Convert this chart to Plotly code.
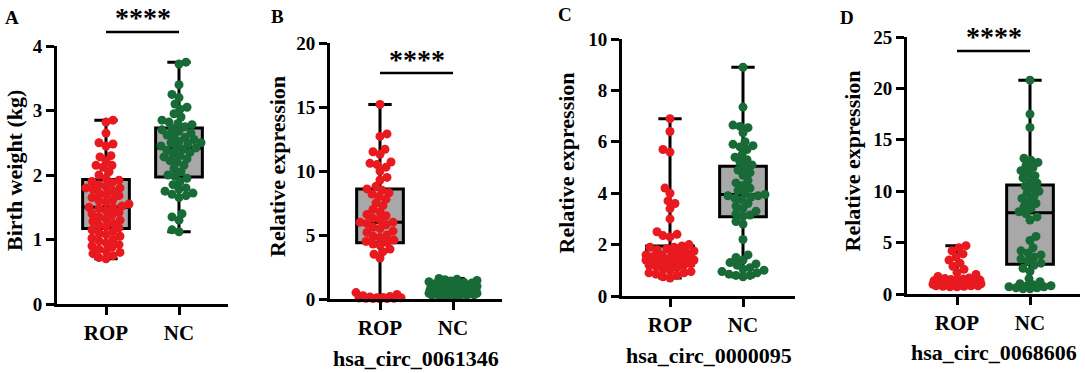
import numpy as np
import plotly.graph_objects as go

W, H = 1085, 373
FONT = "Liberation Serif, Times New Roman, Times, serif"
RED = "#E8191F"
GREEN = "#186A36"
BOXFILL = "#A8A8A8"

categories = ["ROP", "NC"]

# ---- Panel A: birth weight (kg) ----
rop_bw = [2.85, 2.82, 2.65, 2.50, 2.48, 2.45, 2.30, 2.28, 2.22, 2.15, 2.15, 2.12, 2.05, 2.00,
          1.95, 1.92, 1.90, 1.88, 1.85, 1.82, 1.80, 1.80, 1.78, 1.75, 1.72, 1.70, 1.68, 1.65,
          1.62, 1.60, 1.58, 1.55, 1.52, 1.50, 1.50, 1.48, 1.45, 1.42, 1.40, 1.38, 1.35, 1.32,
          1.30, 1.28, 1.25, 1.22, 1.20, 1.18, 1.15, 1.12, 1.10, 1.08, 1.05, 1.02, 1.00, 0.98,
          0.95, 0.92, 0.90, 0.88, 0.85, 0.82, 0.80, 0.78, 0.75, 0.72, 0.70]
nc_bw = [3.75, 3.72, 3.40, 3.25, 3.20, 3.10, 3.05, 3.02, 2.95, 2.90, 2.85, 2.82, 2.80, 2.78,
         2.75, 2.72, 2.70, 2.68, 2.65, 2.62, 2.60, 2.58, 2.55, 2.52, 2.50, 2.50, 2.48, 2.45,
         2.42, 2.42, 2.40, 2.38, 2.35, 2.32, 2.30, 2.28, 2.25, 2.22, 2.20, 2.15, 2.10, 2.05,
         2.00, 1.98, 1.95, 1.90, 1.85, 1.80, 1.78, 1.75, 1.72, 1.70, 1.68, 1.65, 1.40, 1.35,
         1.30, 1.15, 1.12]

# ---- Panel B: hsa_circ_0061346 ----
rop_b = [15.2, 12.9, 12.7, 11.7, 11.5, 11.3, 10.7, 10.6, 10.5, 10.3, 10.0, 9.5, 9.3, 8.8,
         8.6, 8.5, 8.3, 8.2, 8.0, 7.8, 7.5, 7.3, 7.0, 6.8, 6.6, 6.5, 6.3, 6.2, 6.0, 6.0, 5.9,
         5.8, 5.6, 5.5, 5.3, 5.2, 5.0, 4.9, 4.8, 4.6, 4.5, 4.4, 4.3, 4.2, 3.9, 3.7, 3.5, 3.2,
         0.5, 0.35, 0.25, 0.2, 0.15, 0.12, 0.1, 0.1, 0.08, 0.06, 0.05, 0.04, 0.03, 0.02]
nc_b = [1.6, 1.55, 1.5, 1.45, 1.4, 1.35, 1.3, 1.25, 1.2, 1.15, 1.1, 1.05, 1.0, 1.0, 0.95,
        0.95, 0.9, 0.9, 0.88, 0.85, 0.85, 0.82, 0.8, 0.8, 0.78, 0.75, 0.75, 0.72, 0.7, 0.7,
        0.68, 0.65, 0.65, 0.62, 0.6, 0.6, 0.58, 0.55, 0.55, 0.52, 0.5, 0.5, 0.48, 0.45, 0.45,
        0.42, 0.4, 0.4, 0.38, 0.35, 0.35, 0.32, 0.3, 0.3, 0.28, 0.25, 0.22, 0.2]

# ---- Panel C: hsa_circ_0000095 ----
rop_c = [6.9, 6.4, 5.7, 5.6, 4.2, 4.0, 3.7, 3.6, 3.4, 3.0, 2.5, 2.4, 2.35, 2.3, 2.0, 1.95,
         1.9, 1.9, 1.85, 1.8, 1.75, 1.7, 1.7, 1.65, 1.6, 1.6, 1.55, 1.55, 1.5, 1.5, 1.5, 1.45,
         1.45, 1.45, 1.4, 1.4, 1.4, 1.35, 1.35, 1.3, 1.3, 1.25, 1.25, 1.2, 1.2, 1.15, 1.1,
         1.05, 1.0, 0.95, 0.9, 0.9, 0.85, 0.8, 0.75, 0.7]
nc_c = [8.9, 7.35, 6.65, 6.6, 6.55, 6.35, 6.0, 5.9, 5.85, 5.8, 5.7, 5.5, 5.4, 5.3, 5.2,
        5.1, 5.0, 4.9, 4.8, 4.7, 4.5, 4.4, 4.3, 4.2, 4.1, 4.0, 3.95, 3.9, 3.9, 3.85, 3.8,
        3.75, 3.6, 3.5, 3.4, 3.3, 3.2, 3.15, 3.1, 2.9, 2.8, 2.2, 1.6, 1.5, 1.4, 1.3, 1.25,
        1.2, 1.1, 1.05, 1.0, 0.95, 0.9, 0.85, 0.8, 0.8, 0.75]

# ---- Panel D: hsa_circ_0068606 ----
rop_d = [4.7, 4.5, 4.2, 3.9, 3.6, 3.3, 3.0, 2.7, 2.4, 2.1, 1.9, 1.7, 1.55, 1.5, 1.45, 1.4,
         1.4, 1.35, 1.3, 1.3, 1.25, 1.2, 1.2, 1.15, 1.15, 1.1, 1.1, 1.1, 1.05, 1.05, 1.0,
         1.0, 1.0, 0.95, 0.95, 0.9, 0.9, 0.9, 0.85, 0.85, 0.8, 0.8, 0.8, 0.75, 0.75, 0.7, 0.7]
nc_d = [20.8, 17.5, 16.2, 13.2, 13.0, 12.8, 12.5, 12.3, 12.0, 11.8, 11.5, 11.3, 11.0, 10.8,
        10.5, 10.3, 10.0, 9.8, 9.5, 9.3, 9.0, 8.8, 8.5, 8.3, 8.0, 7.8, 7.5, 7.2, 5.6, 5.2,
        4.5, 4.2, 4.0, 3.8, 3.6, 3.4, 3.2, 3.0, 2.8, 2.5, 2.2, 1.5, 1.2, 1.0, 0.9, 0.8, 0.8,
        0.7, 0.7, 0.6, 0.6, 0.5, 0.5]

# Box statistics: [ROP, NC] per panel
box_min = [[0.70, 1.12], [0.0, 0.2], [0.70, 0.75], [0.70, 0.5]]
box_q1 = [[1.17, 1.97], [4.4, 0.3], [1.20, 3.08], [0.85, 2.9]]
box_med = [[1.50, 2.42], [6.0, 0.6], [1.45, 3.95], [1.10, 7.9]]
box_q3 = [[1.93, 2.73], [8.6, 0.95], [1.95, 5.05], [1.40, 10.6]]
box_max = [[2.85, 3.75], [15.2, 1.6], [6.90, 8.9], [4.70, 20.8]]

y_max = [4, 20, 10, 25]
y_dtick = [1, 5, 2, 5]
letters = ["A", "B", "C", "D"]
y_titles = ["Birth weight (kg)", "Relative expression", "Relative expression", "Relative expression"]
subtitles = ["", "hsa_circ_0061346", "hsa_circ_0000095", "hsa_circ_0068606"]
significance = ["****", "****", "", "****"]
values = [(rop_bw, nc_bw), (rop_b, nc_b), (rop_c, nc_c), (rop_d, nc_d)]

# ---- layout geometry (pixels) ----
axis_x = [57, 330, 622, 907]          # y-axis line position
rop_px = [106, 380, 670, 957]         # ROP category centre
axis_right = [228, 502, 795, 1080]    # end of x-axis line
y_top = [46, 43, 39, 37]              # pixel of y max
y_zero = [304, 299, 296, 294]         # pixel of y = 0
CAT_SP = 73.0                         # px between categories
letter_pos = [(12, 17), (277, 16), (565, 14), (847, 17)]
ytitle_x = [14, 277, 566, 852]
sig_y = [17, 59, 0, 37]
bracket_y = [32, 73, 0, 51]
subtitle_y = [0, 358, 355, 352]


def swarm(vals, ppu_y, ppu_x, sep=7.0, maxw=24):
    vals = np.asarray(vals, float)
    order = np.argsort(vals, kind="stable")
    placed = []
    off = np.zeros(len(vals))
    for k, i in enumerate(order):
        y = vals[i] * ppu_y
        sgn = 1 if k % 2 == 0 else -1
        cands = [0]
        for c in range(1, maxw + 1):
            cands += [sgn * c, -sgn * c]
        best, bestd = 0, -1.0
        for c in cands:
            if placed:
                md = min(np.hypot(c - px, y - py) for px, py in placed)
            else:
                md = 1e9
            if md >= sep:
                best = c
                break
            if md > bestd:
                bestd, best = md, c
        placed.append((best, y))
        off[i] = best / ppu_x
    return off


def px2x(x):
    return x / W


def px2y(y):
    return 1 - y / H


def bold(s):
    return f"<b>{s}</b>"


fig = go.Figure()
annotations = []
shapes = []
layout_axes = {}

for p in range(4):
    n = p + 1
    xa = "x" if n == 1 else f"x{n}"
    ya = "y" if n == 1 else f"y{n}"
    xr = [(axis_x[p] - rop_px[p]) / CAT_SP, (axis_right[p] - rop_px[p]) / CAT_SP]
    ppu_y = (y_zero[p] - y_top[p]) / y_max[p]

    for c in range(2):
        fig.add_trace(go.Box(
            x=[c], q1=[box_q1[p][c]], median=[box_med[p][c]], q3=[box_q3[p][c]],
            lowerfence=[box_min[p][c]], upperfence=[box_max[p][c]],
            width=0.64, whiskerwidth=0.5, fillcolor=BOXFILL,
            line=dict(color="black", width=3), boxpoints=False,
            orientation="v", showlegend=False, hoverinfo="skip",
            xaxis=xa, yaxis=ya))
    for c, (vals, col) in enumerate(zip(values[p], [RED, GREEN])):
        off = swarm(vals, ppu_y, CAT_SP)
        fig.add_trace(go.Scatter(
            x=c + off, y=vals, mode="markers",
            marker=dict(color=col, size=9, line=dict(width=0)),
            cliponaxis=False, showlegend=False, hoverinfo="skip",
            xaxis=xa, yaxis=ya))

    common = dict(showline=True, linewidth=3, linecolor="black", ticks="outside",
                  ticklen=8, tickwidth=3, tickcolor="black", showgrid=False,
                  zeroline=False, fixedrange=True, automargin=False)
    yt = list(range(0, y_max[p] + 1, y_dtick[p]))
    layout_axes["xaxis" if n == 1 else f"xaxis{n}"] = dict(
        domain=[px2x(axis_x[p]), px2x(axis_right[p])], range=xr,
        tickvals=[0, 1], ticktext=[bold(t) for t in categories], anchor=ya,
        tickfont=dict(family=FONT, size=21, color="black"), **common)
    layout_axes["yaxis" if n == 1 else f"yaxis{n}"] = dict(
        domain=[px2y(y_zero[p]), px2y(y_top[p])], range=[0, y_max[p]],
        tickvals=yt, ticktext=[bold(t) for t in yt], anchor=xa,
        tickfont=dict(family=FONT, size=19, color="black"), **common)

    annotations.append(dict(text=bold(letters[p]), x=px2x(letter_pos[p][0]), y=px2y(letter_pos[p][1]),
                            xref="paper", yref="paper", showarrow=False,
                            xanchor="center", yanchor="middle",
                            font=dict(family=FONT, size=19, color="black")))
    annotations.append(dict(text=bold(y_titles[p]), x=px2x(ytitle_x[p]),
                            y=px2y((y_top[p] + y_zero[p]) / 2 - 4),
                            xref="paper", yref="paper", showarrow=False, textangle=-90,
                            xanchor="center", yanchor="middle",
                            font=dict(family=FONT, size=22, color="black")))
    if subtitles[p]:
        annotations.append(dict(text=bold(subtitles[p]),
                                x=((axis_x[p] + axis_right[p]) / 2 - rop_px[p]) / CAT_SP, xref=xa,
                                y=px2y(subtitle_y[p]), yref="paper", showarrow=False,
                                xanchor="center", yanchor="middle",
                                font=dict(family=FONT, size=22, color="black")))
    if significance[p]:
        annotations.append(dict(text=bold(significance[p]), x=0.5, xref=xa,
                                y=px2y(sig_y[p]), yref="paper", showarrow=False,
                                xanchor="center", yanchor="middle",
                                font=dict(family=FONT, size=28, color="black")))
        shapes.append(dict(type="line", xref=xa, yref="paper", x0=0, x1=1,
                           y0=px2y(bracket_y[p]), y1=px2y(bracket_y[p]),
                           line=dict(color="black", width=2.5)))

fig.update_layout(width=W, height=H, autosize=False,
                  margin=dict(l=0, r=0, t=0, b=0, pad=0),
                  paper_bgcolor="white", plot_bgcolor="white",
                  boxmode="overlay", annotations=annotations, shapes=shapes,
                  **layout_axes)

fig.write_html("out.html", config={"displayModeBar": False, "staticPlot": True},
               post_script="document.body.style.margin='0';document.body.style.overflow='hidden';")
